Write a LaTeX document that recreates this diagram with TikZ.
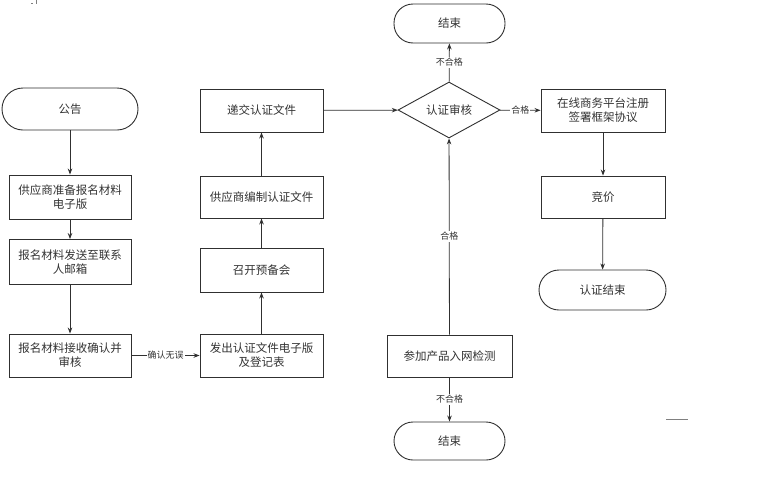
\documentclass[tikz,border=0pt]{standalone}
\usepackage{fontspec}
\newfontfamily\cjk{Noto Sans CJK SC}
\usetikzlibrary{shapes.geometric,arrows.meta}
\definecolor{ln}{HTML}{303030}
\definecolor{tx}{HTML}{333333}
\tikzset{
  every node/.style={font=\cjk\fontsize{11.5}{14}\selectfont, text=tx},
  box/.style={draw=ln, line width=0.9pt, minimum width=123pt, minimum height=43pt, align=center, inner sep=2pt},
  term/.style={draw=ln, line width=0.9pt, rounded corners=19pt, minimum width=111pt, minimum height=39pt},
  dia/.style={draw=ln, line width=0.9pt, diamond, aspect=1.82, minimum width=102pt, minimum height=56pt, inner sep=0pt},
  arr/.style={draw=ln, line width=0.8pt, -{Stealth[length=6pt,width=4.5pt]}},
  lab/.style={fill=white, inner sep=1pt, font=\cjk\fontsize{9}{10}\selectfont}
}
\begin{document}
\begin{tikzpicture}[x=1pt,y=-1pt]
\path[use as bounding box, fill=white] (0,0) rectangle (762,477);
% left column
\node[term, minimum width=136pt, minimum height=42pt, rounded corners=21pt] (gg) at (70,109) {公告};
\node[box, minimum width=122pt, minimum height=44pt] (b1) at (70,197) {供应商准备报名材料\\电子版};
\node[box, minimum width=122pt, minimum height=45pt] (b2) at (70,262) {报名材料发送至联系\\人邮箱};
\node[box, minimum width=122pt] (b3) at (70,355.5) {报名材料接收确认并\\审核};
% middle column
\node[box] (c1) at (261.5,355.5) {发出认证文件电子版\\及登记表};
\node[box, minimum height=44pt] (c2) at (261.5,270) {召开预备会};
\node[box, minimum height=42pt] (c3) at (261.5,197) {供应商编制认证文件};
\node[box] (c4) at (261.5,110.5) {递交认证文件};
% decision column
\node[dia] (d) at (449,110) {认证审核};
\node[term] (e1) at (449.5,23.5) {结束};
\node[box, minimum width=125pt, minimum height=42pt] (p) at (449.5,356) {参加产品入网检测};
\node[term, minimum height=38pt] (e2) at (449.5,441) {结束};
% right column
\node[box, minimum width=124pt] (r1) at (603,110.5) {在线商务平台注册\\签署框架协议};
\node[box, minimum width=124pt, minimum height=42pt] (r2) at (603,197) {竞价};
\node[term, minimum width=127pt, minimum height=40pt, rounded corners=20pt] (r3) at (602.5,290) {认证结束};
% connectors
\draw[arr] (gg) -- (b1);
\draw[arr] (b1) -- (b2);
\draw[arr] (b2) -- (b3);
\draw[arr] (b3) -- node[lab] {确认无误} (c1);
\draw[arr] (c1) -- (c2);
\draw[arr] (c2) -- (c3);
\draw[arr] (c3) -- (c4);
\draw[arr] (c4) -- (d);
\draw[arr] (d) -- node[lab] {不合格} (e1);
\draw[arr] (d) -- node[lab] {合格} (r1);
\draw[arr] (r1) -- (r2);
\draw[arr] (r2) -- (r3);
\draw[arr] (p) -- node[lab, pos=0.5] {合格} (d);
\draw[arr] (p) -- node[lab] {不合格} (e2);
% stray marks
\draw[gray, line width=0.8pt] (666,419) -- (688,419);
\draw[gray, line width=0.7pt] (36.5,0) -- (36.5,4);
\draw[gray, line width=0.7pt] (31,3.5) -- (33,3.5);
\end{tikzpicture}
\end{document}
